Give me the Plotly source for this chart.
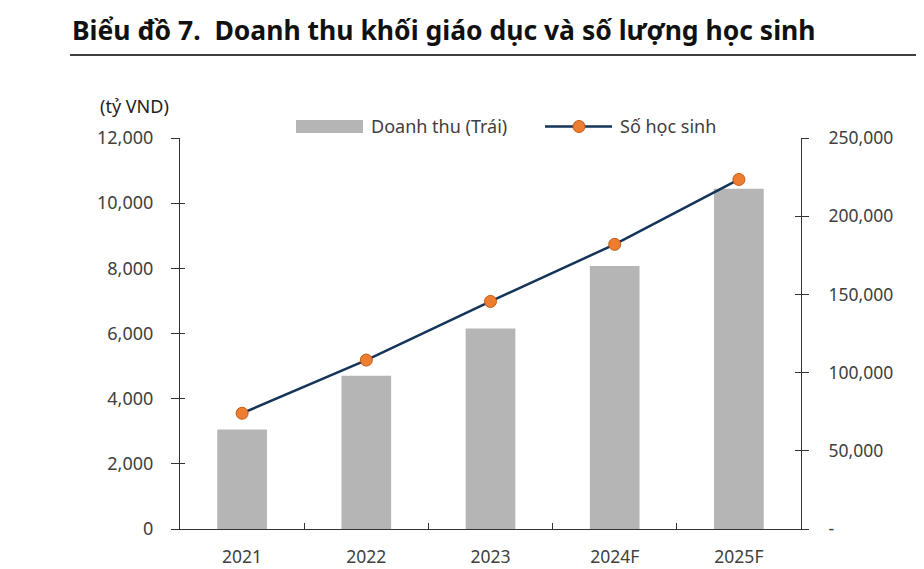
import plotly.graph_objects as go

years = ["2021", "2022", "2023", "2024F", "2025F"]
revenue = [3050, 4700, 6150, 8070, 10440]          # tỷ VND (left axis)
students = [74000, 108000, 145500, 182000, 223500]  # số học sinh (right axis)

left_ticks = [0, 2000, 4000, 6000, 8000, 10000, 12000]
left_tick_text = ["0", "2,000", "4,000", "6,000", "8,000", "10,000", "12,000"]
right_ticks = [0, 50000, 100000, 150000, 200000, 250000]
right_tick_text = ["-", "50,000", "100,000", "150,000", "200,000", "250,000"]

BAR_COLOR = "#b5b5b5"
LINE_COLOR = "#15345a"
MARKER_COLOR = "#ed7d31"
TEXT_COLOR = "#404040"
AXIS_COLOR = "#333333"
FONT = "Noto Sans"

fig = go.Figure()
fig.add_trace(go.Bar(
    x=years, y=revenue, name="Doanh thu (Trái)",
    marker=dict(color=BAR_COLOR, line=dict(width=0)),
    width=0.4, yaxis="y", showlegend=False,
))
fig.add_trace(go.Scatter(
    x=years, y=students, name="Số học sinh", mode="lines+markers",
    line=dict(color=LINE_COLOR, width=2.5),
    marker=dict(color=MARKER_COLOR, size=12, line=dict(color="#c55a11", width=1)),
    yaxis="y2", showlegend=False,
))

# page offset (body margin) of 8px
OFF = 8
W, H = 924 - OFF, 569 - OFF
L, R, T, B = 180 - OFF, 123, 138 - OFF, 40
pw, ph = W - L - R, H - T - B

def px(x):
    return (x - OFF - L) / pw

def py(y):
    return (H - B - (y - OFF)) / ph

shapes = [
    dict(type="line", xref="paper", yref="paper", x0=px(70), x1=px(930), y0=py(55), y1=py(55),
         line=dict(color="#000000", width=1.5)),
    dict(type="rect", xref="paper", yref="paper", x0=px(296), x1=px(363), y0=py(133), y1=py(120),
         fillcolor=BAR_COLOR, line=dict(width=0)),
    dict(type="line", xref="paper", yref="paper", x0=px(545), x1=px(612), y0=py(126.5), y1=py(126.5),
         line=dict(color=LINE_COLOR, width=2.5)),
    dict(type="circle", xref="paper", yref="paper", x0=px(573), x1=px(585), y0=py(132.5), y1=py(120.5),
         fillcolor=MARKER_COLOR, line=dict(color="#c55a11", width=1)),
]

annotations = [
    dict(text="<b>Biểu đồ 7.  Doanh thu khối giáo dục và số lượng học sinh</b>",
         xref="paper", yref="paper", x=px(70), y=py(30), xanchor="left", yanchor="middle",
         showarrow=False, font=dict(family=FONT, size=26.5, color="#111111")),
    dict(text="(tỷ VND)", xref="paper", yref="paper", x=px(171), y=py(106),
         xanchor="right", yanchor="middle", showarrow=False,
         font=dict(family=FONT, size=18, color="#222222")),
    dict(text="Doanh thu (Trái)", xref="paper", yref="paper", x=px(369), y=py(126),
         xanchor="left", yanchor="middle", showarrow=False,
         font=dict(family=FONT, size=18, color=TEXT_COLOR)),
    dict(text="Số học sinh", xref="paper", yref="paper", x=px(618), y=py(126),
         xanchor="left", yanchor="middle", showarrow=False,
         font=dict(family=FONT, size=18, color=TEXT_COLOR)),
]

fig.update_layout(
    width=W, height=H,
    margin=dict(l=L, r=R, t=T, b=B, pad=0, autoexpand=False),
    paper_bgcolor="white", plot_bgcolor="white",
    font=dict(family=FONT, size=18, color=TEXT_COLOR),
    bargap=0.6,
    xaxis=dict(
        type="category", showline=True, linecolor=AXIS_COLOR, linewidth=1.2,
        ticks="inside", tickson="boundaries", ticklen=6, tickcolor=AXIS_COLOR,
        showgrid=False, tickfont=dict(size=17.5, color=TEXT_COLOR), ticklabelstandoff=12,
        automargin=False,
    ),
    yaxis=dict(
        range=[0, 12000], tickvals=left_ticks, ticktext=left_tick_text,
        showline=True, linecolor=AXIS_COLOR, linewidth=1.2,
        ticks="outside", ticklen=8, tickcolor=AXIS_COLOR, showgrid=False, zeroline=False,
        tickfont=dict(size=18, color=TEXT_COLOR), ticklabelstandoff=14, automargin=False,
    ),
    yaxis3=dict(
        range=[0, 12000], tickvals=left_ticks, overlaying="y", side="left",
        showline=False, showticklabels=False, ticks="inside", ticklen=5,
        tickcolor=AXIS_COLOR, showgrid=False, zeroline=False, automargin=False,
    ),
    yaxis2=dict(
        range=[0, 250000], tickvals=right_ticks, ticktext=right_tick_text,
        overlaying="y", side="right",
        showline=True, linecolor=AXIS_COLOR, linewidth=1.2,
        ticks="outside", ticklen=7, tickcolor=AXIS_COLOR, showgrid=False, zeroline=False,
        tickfont=dict(size=17.5, color=TEXT_COLOR), ticklabelstandoff=16, automargin=False,
    ),
    yaxis4=dict(
        range=[0, 250000], tickvals=right_ticks, overlaying="y", side="right",
        showline=False, showticklabels=False, ticks="inside", ticklen=6,
        tickcolor=AXIS_COLOR, showgrid=False, zeroline=False, automargin=False,
    ),
    shapes=shapes,
    annotations=annotations,
)

# invisible traces to activate the tick-only overlay axes
fig.add_trace(go.Scatter(x=[years[0]], y=[0], yaxis="y3", mode="markers",
                         marker=dict(opacity=0), showlegend=False, hoverinfo="skip"))
fig.add_trace(go.Scatter(x=[years[0]], y=[0], yaxis="y4", mode="markers",
                         marker=dict(opacity=0), showlegend=False, hoverinfo="skip"))

fig.write_html("out.html")
